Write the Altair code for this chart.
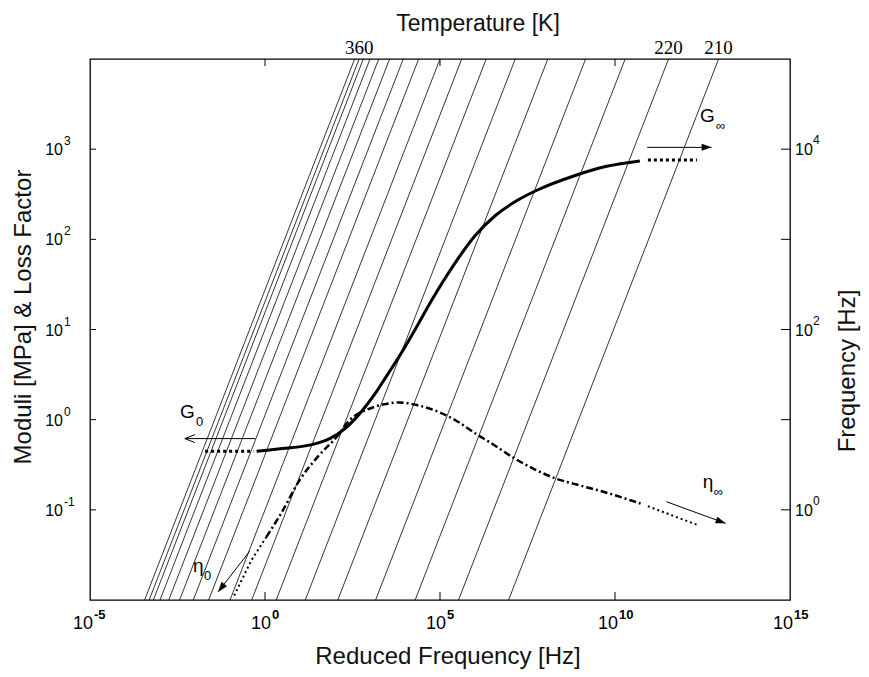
import math
import altair as alt
import pandas as pd

# ---------------- data ----------------
temperatures = [370, 360, 350, 340, 330, 320, 310, 300, 290, 280, 270, 260, 250, 240, 230, 220, 210]
log_shift = [-2.44, -2.31, -2.19, -2.00, -1.75, -1.44, -1.05, -0.61, 0.00, 0.62,
             1.32, 2.15, 3.08, 4.16, 5.29, 6.53, 7.96]
freq_span = [0.1, 1e5]
labelled_temps = [360, 220, 210]

mod_logf = [-0.24, 0.50, 1.30, 1.85, 2.25, 2.60, 2.90, 3.20, 3.50, 3.80, 4.20, 4.80,
            5.40, 6.00, 6.60, 7.20, 7.80, 8.80, 9.76, 10.71]
mod_logg = [-0.35, -0.32, -0.28, -0.21, -0.11, 0.02, 0.16, 0.32, 0.50, 0.68, 0.94, 1.35,
            1.72, 2.04, 2.27, 2.43, 2.55, 2.70, 2.81, 2.87]
g0_logf = [-1.71, -0.33]
g0_logg = [-0.35, -0.35]
ginf_logf = [10.94, 12.34]
ginf_logg = [2.88, 2.88]

eta_logf = [0.04, 0.46, 0.99, 1.51, 2.05, 2.43, 2.91, 3.40, 3.85, 4.30, 5.00, 5.50,
            6.00, 6.50, 7.13, 7.70, 8.29, 9.00, 9.67, 10.73]
eta_logv = [-1.30, -1.04, -0.67, -0.41, -0.19, 0.00, 0.11, 0.17, 0.19, 0.165, 0.08, -0.02,
            -0.15, -0.27, -0.43, -0.55, -0.65, -0.73, -0.80, -0.93]
eta0_logf = [-0.88, -0.39, 0.04]
eta0_logv = [-1.95, -1.56, -1.30]
etainf_logf = [10.94, 12.37]
etainf_logv = [-0.96, -1.17]

arrow_open = [True, False, False, False]
arrow_from_logf = [-0.28, 10.92, -0.44, 11.47]
arrow_from_logv = [-0.21, 3.02, -1.46, -0.91]
arrow_to_logf = [-2.29, 12.76, -1.34, 13.16]
arrow_to_logv = [-0.21, 3.02, -1.91, -1.15]

ann_main = ["G", "G", "η", "η"]
ann_sub = ["0", "∞", "0", "∞"]
ann_logf = [-2.43, 12.43, -2.06, 12.51]
ann_logv = [0.02, 3.30, -1.69, -0.76]

x_ticks = [1e-5, 1, 1e5, 1e10, 1e15]
x_exps = ["-5", "0", "5", "10", "15"]
left_ticks = [0.1, 1, 10, 100, 1000]
left_exps = ["-1", "0", "1", "2", "3"]
right_ticks = [1, 10, 100, 1000, 10000]
right_labelled = [1, 100, 10000]
right_exps = ["0", "2", "4"]

# ---------------- layout ----------------
W, H = 700, 541
XDOM = [1e-5, 1e15]
YL = [1e-2, 1e4]
YR = [1e-1, 1e5]
FONT = "Liberation Sans"

xs = alt.Scale(type="log", domain=XDOM, nice=False)
yl = alt.Scale(type="log", domain=YL, nice=False)
yr = alt.Scale(type="log", domain=YR, nice=False)


def X(f):
    return alt.X(f"{f}:Q", scale=xs, axis=None)


def YLf(f):
    return alt.Y(f"{f}:Q", scale=yl, axis=None)


def YRf(f):
    return alt.Y(f"{f}:Q", scale=yr, axis=None)


def curve(lx, ly):
    return pd.DataFrame({"x": [10 ** v for v in lx], "y": [10 ** v for v in ly],
                         "i": list(range(len(lx)))})


layers = []

# isotherms
iso_rows = []
for T, s in zip(temperatures, log_shift):
    for f in freq_span:
        iso_rows.append({"T": T, "f": f, "fr": (10 ** s) * f})
iso_df = pd.DataFrame(iso_rows)
layers.append(alt.Chart(iso_df).mark_line(color="black", strokeWidth=0.8).encode(
    x=X("fr"), y=YRf("f"), detail="T:N"))

# temperature labels on top
tl_df = iso_df[(iso_df["f"] == freq_span[1]) & (iso_df["T"].isin(labelled_temps))]
layers.append(alt.Chart(tl_df).mark_text(font="Liberation Serif", fontSize=19, color="black",
                                         align="center", baseline="alphabetic").encode(
    x=X("fr"), y=alt.value(-5), text="T:N"))

# modulus curve
layers.append(alt.Chart(curve(mod_logf, mod_logg)).mark_line(
    color="black", strokeWidth=3, interpolate="monotone").encode(x=X("x"), y=YLf("y"), order="i:Q"))
for lx, ly in [(g0_logf, g0_logg), (ginf_logf, ginf_logg)]:
    layers.append(alt.Chart(curve(lx, ly)).mark_line(
        color="black", strokeWidth=3, strokeDash=[3, 3]).encode(x=X("x"), y=YLf("y"), order="i:Q"))

# loss factor curve
layers.append(alt.Chart(curve(eta_logf, eta_logv)).mark_line(
    color="black", strokeWidth=2.5, strokeDash=[7, 3, 2, 3], interpolate="monotone").encode(
    x=X("x"), y=YLf("y"), order="i:Q"))
for lx, ly in [(eta0_logf, eta0_logv), (etainf_logf, etainf_logv)]:
    layers.append(alt.Chart(curve(lx, ly)).mark_line(
        color="black", strokeWidth=2, strokeDash=[2, 3]).encode(x=X("x"), y=YLf("y"), order="i:Q"))

# arrows
px_x = W / math.log10(XDOM[1] / XDOM[0])
px_y = H / math.log10(YL[1] / YL[0])
arr = pd.DataFrame({
    "x1": [10 ** v for v in arrow_from_logf], "y1": [10 ** v for v in arrow_from_logv],
    "x2": [10 ** v for v in arrow_to_logf], "y2": [10 ** v for v in arrow_to_logv],
    "open": arrow_open,
})
arr["ang"] = [
    math.degrees(math.atan2(-(b2 - b1) * px_y, (a2 - a1) * px_x)) % 360
    for a1, b1, a2, b2 in zip(arrow_from_logf, arrow_from_logv, arrow_to_logf, arrow_to_logv)
]
layers.append(alt.Chart(arr).mark_rule(color="black", strokeWidth=1).encode(
    x=X("x1"), y=YLf("y1"), x2="x2:Q", y2="y2:Q"))
layers.append(alt.Chart(arr[~arr["open"]]).mark_point(
    shape="M0,0L-2,-0.7L-2,0.7Z", filled=True, color="black", size=100, opacity=1).encode(
    x=X("x2"), y=YLf("y2"), angle=alt.Angle("ang:Q", scale=None)))
layers.append(alt.Chart(arr[arr["open"]]).mark_point(
    shape="M-2,-0.8L0,0L-2,0.8", filled=False, color="black", size=100, strokeWidth=1, opacity=1).encode(
    x=X("x2"), y=YLf("y2"), angle=alt.Angle("ang:Q", scale=None)))

# annotations G0, G_inf, eta0, eta_inf
ann = pd.DataFrame({"m": ann_main, "s": ann_sub,
                    "x": [10 ** v for v in ann_logf], "y": [10 ** v for v in ann_logv]})
layers.append(alt.Chart(ann).mark_text(font=FONT, fontSize=19, color="black", align="left",
                                       baseline="alphabetic").encode(x=X("x"), y=YLf("y"), text="m:N"))
layers.append(alt.Chart(ann[ann["m"] == "G"]).mark_text(
    font=FONT, fontSize=13, color="black", align="left", baseline="alphabetic", dx=16, dy=8).encode(
    x=X("x"), y=YLf("y"), text="s:N"))
layers.append(alt.Chart(ann[ann["m"] == "η"]).mark_text(
    font=FONT, fontSize=13, color="black", align="left", baseline="alphabetic", dx=11, dy=8).encode(
    x=X("x"), y=YLf("y"), text="s:N"))

# inward tick marks
inner_x = pd.DataFrame({"v": x_ticks[1:-1]})
layers.append(alt.Chart(inner_x).mark_rule(color="black", strokeWidth=1).encode(
    x=X("v"), y=alt.value(H), y2=alt.value(H - 8)))
layers.append(alt.Chart(inner_x).mark_rule(color="black", strokeWidth=1).encode(
    x=X("v"), y=alt.value(0), y2=alt.value(7)))
layers.append(alt.Chart(pd.DataFrame({"v": left_ticks})).mark_rule(color="black", strokeWidth=1).encode(
    y=YLf("v"), x=alt.value(0), x2=alt.value(6)))
layers.append(alt.Chart(pd.DataFrame({"v": right_ticks})).mark_rule(color="black", strokeWidth=1).encode(
    y=YRf("v"), x=alt.value(W - 9), x2=alt.value(W)))

# bottom tick labels (10 + bold exponent)
bx = pd.DataFrame({"v": x_ticks, "e": x_exps, "b": ["10"] * len(x_ticks)})
bx["n"] = bx["e"].str.len()
for n, dx10, dxe in [(1, 6, 7), (2, 3, 4)]:
    sub = bx[bx["n"] == n]
    layers.append(alt.Chart(sub).mark_text(font=FONT, fontSize=18, color="black", align="right",
                                           baseline="alphabetic", dx=dx10).encode(
        x=X("v"), y=alt.value(H + 29), text="b:N"))
    layers.append(alt.Chart(sub).mark_text(font=FONT, fontSize=13, fontWeight="bold", color="black",
                                           align="left", baseline="alphabetic", dx=dxe).encode(
        x=X("v"), y=alt.value(H + 18.5), text="e:N"))

# left tick labels
lt = pd.DataFrame({"v": left_ticks, "e": left_exps, "b": ["10"] * len(left_ticks)})
layers.append(alt.Chart(lt).mark_text(font=FONT, fontSize=16, color="black", align="right",
                                      baseline="alphabetic", dy=6).encode(
    x=alt.value(-27), y=YLf("v"), text="b:N"))
layers.append(alt.Chart(lt).mark_text(font=FONT, fontSize=12, color="black", align="left",
                                      baseline="alphabetic", dy=-4).encode(
    x=alt.value(-26), y=YLf("v"), text="e:N"))

# right tick labels
rt = pd.DataFrame({"v": right_labelled, "e": right_exps, "b": ["10"] * len(right_labelled)})
layers.append(alt.Chart(rt).mark_text(font=FONT, fontSize=16, color="black", align="left",
                                      baseline="alphabetic", dy=6).encode(
    x=alt.value(W + 5), y=YRf("v"), text="b:N"))
layers.append(alt.Chart(rt).mark_text(font=FONT, fontSize=12, color="black", align="left",
                                      baseline="alphabetic", dy=-5).encode(
    x=alt.value(W + 23), y=YRf("v"), text="e:N"))


# titles
def title(txt, x, y, angle=0, size=24):
    kw = dict(font=FONT, fontSize=size, color="#111", align="center", baseline="alphabetic")
    if angle:
        kw["angle"] = angle
    return alt.Chart(pd.DataFrame({"t": [txt]})).mark_text(**kw).encode(
        x=alt.value(x), y=alt.value(y), text="t:N")


layers.append(title("Temperature [K]", 388, -28, size=23))
layers.append(title("Reduced Frequency [Hz]", 358, H + 64))
layers.append(title("Moduli [MPa] & Loss Factor", -59, 258, 270))
layers.append(title("Frequency [Hz]", 765, 312, 270))

chart = alt.layer(*layers).resolve_scale(y="independent").properties(
    width=W, height=H,
    autosize=alt.AutoSizeParams(type="none"),
    padding={"left": 82, "top": 51, "right": 71, "bottom": 69},
    background="white",
).configure_view(stroke="black", strokeWidth=1.3)

chart.save("out.html", embed_options={"renderer": "svg", "actions": False})
